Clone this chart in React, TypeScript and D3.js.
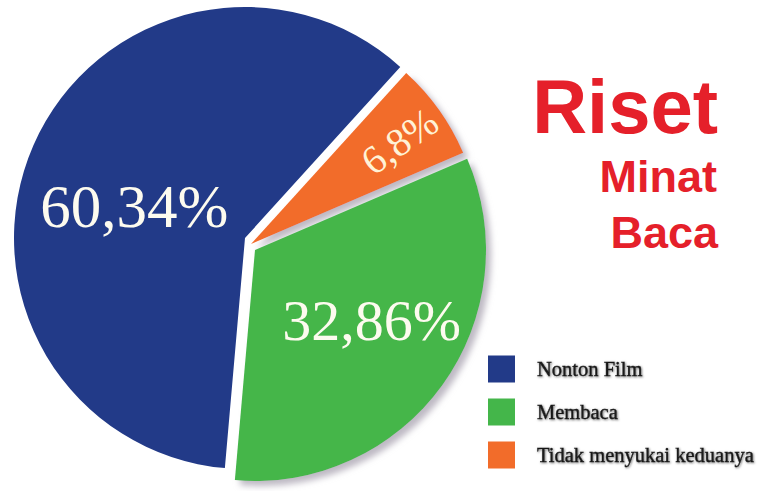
import React from "react";
import * as d3 from "d3";

const categories = ["Nonton Film", "Tidak menyukai keduanya", "Membaca"];
const values = [60.34, 6.8, 32.86];
const valueLabels = ["60,34%", "6,8%", "32,86%"];
const legendOrder = ["Nonton Film", "Membaca", "Tidak menyukai keduanya"];
const titleLines = ["Riset", "Minat", "Baca"];

const W = 759;
const H = 491;
const colors: Record<string, string> = {
  "Nonton Film": "#223a88",
  Membaca: "#44b64a",
  "Tidak menyukai keduanya": "#f26c2a",
};
// layout: explode offsets (px), label radius fraction and label nudges per category
const explode: Record<string, [number, number]> = {
  "Nonton Film": [0, 0],
  "Tidak menyukai keduanya": [6, 6],
  Membaca: [10, 12],
};
const labelR: Record<string, number> = {
  "Nonton Film": 0.5,
  "Tidak menyukai keduanya": 0.78,
  Membaca: 0.58,
};
const labelNudge: Record<string, [number, number]> = {
  "Nonton Film": [-5, 15],
  "Tidak menyukai keduanya": [2, 2],
  Membaca: [8, -8],
};
const labelSize: Record<string, number> = {
  "Nonton Film": 61,
  "Tidak menyukai keduanya": 40,
  Membaca: 58,
};
const rotationDeg = 5;

export default function App() {
  const cx = 245;
  const cy = 238;
  const r = 231;
  const data = categories.map((c, i) => ({ c, v: values[i], label: valueLabels[i] }));
  const s = Math.PI + (rotationDeg * Math.PI) / 180;
  const pie = d3
    .pie<any>()
    .value((d) => d.v)
    .sort(null)
    .startAngle(s)
    .endAngle(s + Math.PI * 2);
  const arcs = pie(data);
  const arc = d3.arc<any>().innerRadius(0).outerRadius(r);

  const legendY = d3.scalePoint<string>().domain(legendOrder).range([369, 455]);

  return (
    <svg
      width={W}
      height={H}
      style={{ position: "absolute", left: 0, top: 0, background: "#fff" }}
    >
      <defs>
        <filter id="sh" x="-20%" y="-20%" width="150%" height="150%">
          <feDropShadow dx="5" dy="5" stdDeviation="3" floodColor="#a8a2b0" floodOpacity="0.75" />
        </filter>
        <filter id="tsh" x="-10%" y="-30%" width="120%" height="170%">
          <feDropShadow dx="0.8" dy="0.8" stdDeviation="0.9" floodColor="#000" floodOpacity="0.6" />
        </filter>
      </defs>
      {arcs.map((a) => {
        const [dx, dy] = explode[a.data.c];
        return (
          <g key={a.data.c} transform={`translate(${cx + dx},${cy + dy})`}>
            <path
              d={arc(a) as string}
              fill={colors[a.data.c]}
              filter={a.data.c === "Nonton Film" ? undefined : "url(#sh)"}
            />
          </g>
        );
      })}
      {arcs.map((a) => {
        const [dx, dy] = explode[a.data.c];
        const [nx, ny] = labelNudge[a.data.c];
        const mid = (a.startAngle + a.endAngle) / 2;
        const lr = r * labelR[a.data.c];
        const x = cx + dx + Math.sin(mid) * lr + nx;
        const y = cy + dy - Math.cos(mid) * lr + ny;
        const rot = a.data.c === "Tidak menyukai keduanya" ? (mid * 180) / Math.PI - 90 : 0;
        return (
          <text
            key={"l" + a.data.c}
            transform={`translate(${x},${y}) rotate(${rot})`}
            textAnchor="middle"
            dominantBaseline="central"
            fontFamily="Liberation Serif, serif"
            fontSize={labelSize[a.data.c]}
            fill={a.data.c === "Tidak menyukai keduanya" ? "#fff2d6" : "#fdfbef"}
          >
            {a.data.label}
          </text>
        );
      })}
      <g fontFamily="Liberation Sans, Arial, sans-serif" fontWeight="bold" fill="#e5202a" textAnchor="end">
        <text x={718} y={133} fontSize={76}>{titleLines[0]}</text>
        <text x={717} y={192} fontSize={45}>{titleLines[1]}</text>
        <text x={718} y={248} fontSize={45}>{titleLines[2]}</text>
      </g>
      <g>
        {legendOrder.map((c) => (
          <g key={"lg" + c} transform={`translate(488,${legendY(c)})`}>
            <rect x={0} y={-13.5} width={27} height={27} fill={colors[c]} />
            <text
              x={49}
              y={7}
              fontFamily="Liberation Serif, serif"
              fontSize={20.5}
              fill="#1a1a1a"
              stroke="#1a1a1a"
              strokeWidth={0.35}
              filter="url(#tsh)"
            >
              {c}
            </text>
          </g>
        ))}
      </g>
    </svg>
  );
}
